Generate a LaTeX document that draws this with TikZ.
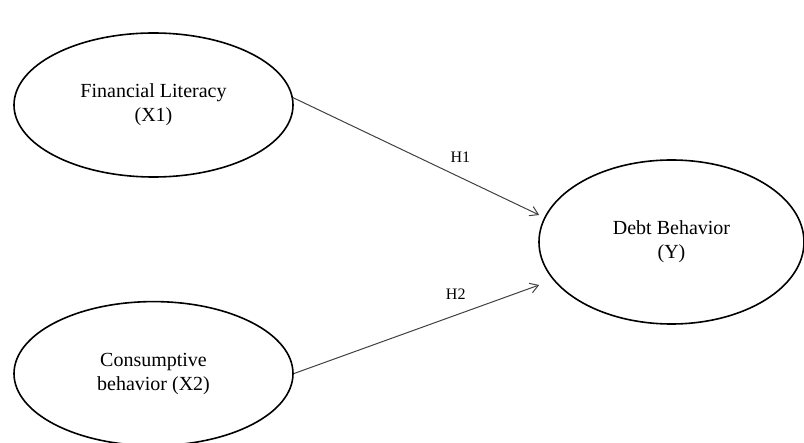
\documentclass[tikz,border=0pt]{standalone}
\usepackage{fontspec}
\setmainfont{Liberation Serif}
\usepackage{tikz}
\usetikzlibrary{shapes.geometric, arrows.meta, positioning, calc}
\tikzstyle{construct} = [ellipse, draw=black, line width=0.8pt, align=center,
    minimum width=139.5pt, minimum height=72pt, inner sep=0pt, font=\fontsize{10}{12}\selectfont]
\tikzstyle{outconstruct} = [construct, minimum width=132.5pt, minimum height=82pt]
\tikzstyle{path} = [draw=black!75, line width=0.5pt, -{Straight Barb[length=4pt,width=5pt]}]
\tikzstyle{hyp} = [font=\fontsize{8}{10}\selectfont, above=4pt]

\begin{document}
\begin{tikzpicture}[x=0.5pt, y=-0.5pt]
  \useasboundingbox (0,0) rectangle (804,443);
  % Constructs
  \node[construct] (x1) at (153.5,105) {Financial Literacy\\(X1)};
  \node[construct, below=61.5pt of x1] (x2) {Consumptive\\behavior (X2)};
  \node[outconstruct] (y) at (671.5,242) {Debt Behavior\\(Y)};

  % Arrow ends
  \coordinate (y1) at ($(y.west)+(1,-27)$);
  \coordinate (y2) at ($(y.west)+(1,43)$);

  % Paths
  \draw[path] (x1.3) -- (y1) node[hyp, pos=0.68] {H1};
  \draw[path] (x2.east) -- (y2) node[hyp, pos=0.66] {H2};
\end{tikzpicture}
\end{document}
